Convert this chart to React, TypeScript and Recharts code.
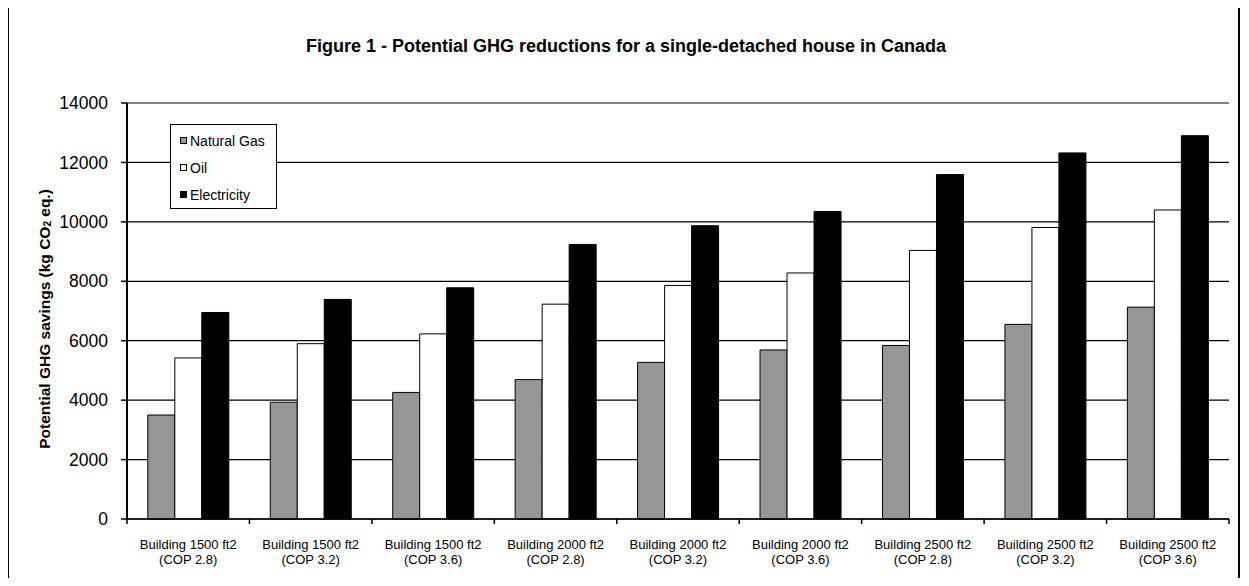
import { BarChart, Bar, XAxis, YAxis, CartesianGrid, Legend } from "recharts";

const categories = [
  "Building 1500 ft2|(COP 2.8)",
  "Building 1500 ft2|(COP 3.2)",
  "Building 1500 ft2|(COP 3.6)",
  "Building 2000 ft2|(COP 2.8)",
  "Building 2000 ft2|(COP 3.2)",
  "Building 2000 ft2|(COP 3.6)",
  "Building 2500 ft2|(COP 2.8)",
  "Building 2500 ft2|(COP 3.2)",
  "Building 2500 ft2|(COP 3.6)",
];
const naturalGas = [3500, 3930, 4260, 4690, 5270, 5690, 5840, 6550, 7130];
const oil = [5420, 5900, 6230, 7230, 7860, 8280, 9040, 9810, 10400];
const electricity = [6950, 7390, 7780, 9240, 9870, 10350, 11590, 12320, 12900];
const yTicks = [0, 2000, 4000, 6000, 8000, 10000, 12000, 14000];
const seriesNames = ["Natural Gas", "Oil", "Electricity"];

const FONT = "'Liberation Sans', Arial, Helvetica, sans-serif";

const data = categories.map((name, i) => ({
  name,
  gas: naturalGas[i],
  oil: oil[i],
  elec: electricity[i],
}));

function XTick(props: any) {
  const { x, y, payload, index, width, visibleTicksCount } = props;
  const count = visibleTicksCount || categories.length;
  const bw = (width || 1102) / count;
  const [l1, l2] = String(payload.value).split("|");
  const axisY = y - 5;
  return (
    <g>
      <line x1={x - bw / 2} x2={x - bw / 2} y1={axisY} y2={axisY + 5} stroke="#000" strokeWidth={1.5} />
      {index === count - 1 && (
        <line x1={x + bw / 2} x2={x + bw / 2} y1={axisY} y2={axisY + 5} stroke="#000" strokeWidth={1.5} />
      )}
      <text x={x} y={y} textAnchor="middle" fontSize={13} fontFamily={FONT} fill="#000">
        <tspan x={x} dy={25}>{l1}</tspan>
        <tspan x={x} dy={14.5}>{l2}</tspan>
      </text>
    </g>
  );
}

function YLabel(props: any) {
  const vb = props.viewBox || { x: 0, y: 103, width: 127, height: 416 };
  const cx = vb.x + 44;
  const cy = vb.y + vb.height / 2 + 8;
  return (
    <text
      x={cx}
      y={cy}
      transform={`rotate(-90, ${cx}, ${cy})`}
      textAnchor="middle"
      dominantBaseline="central"
      fontSize={15.5}
      fontWeight="bold"
      fontFamily={FONT}
      fill="#000"
    >
      Potential GHG savings (kg CO
      <tspan fontSize={10} dy={3}>2</tspan>
      <tspan dy={-3}> eq.)</tspan>
    </text>
  );
}

function LegendBox(props: any) {
  const payload = [...(props.payload || [])].sort(
    (a: any, b: any) => seriesNames.indexOf(a.value) - seriesNames.indexOf(b.value)
  );
  return (
    <div
      style={{
        border: "1px solid #000",
        background: "#fff",
        width: 105,
        height: 81,
        paddingTop: 2,
        boxSizing: "content-box",
        fontFamily: FONT,
        fontSize: 14,
        color: "#000",
      }}
    >
      {payload.map((p: any) => (
        <div key={p.value} style={{ display: "flex", alignItems: "center", height: 27, paddingLeft: 9 }}>
          <span
            style={{
              display: "inline-block",
              width: 5,
              height: 5,
              border: "1px solid #000",
              background: p.color,
              marginRight: 3,
            }}
          />
          <span>{p.value}</span>
        </div>
      ))}
    </div>
  );
}

export default function App() {
  return (
    <div style={{ position: "relative", width: 1249, height: 586, margin: -8, overflow: "hidden", background: "#fff" }}>
      <div
        style={{
          position: "absolute",
          left: 7,
          top: 4,
          width: 1229,
          height: 620,
          border: "2px solid #000",
        }}
      />
      <div
        style={{
          position: "absolute",
          left: 0,
          top: 36,
          width: 1252,
          textAlign: "center",
          fontFamily: FONT,
          fontWeight: "bold",
          fontSize: 18,
          color: "#000",
        }}
      >
        Figure 1 - Potential GHG reductions for a single-detached house in Canada
      </div>
      <div style={{ position: "absolute", left: 0, top: 0 }}>
        <BarChart
          width={1249}
          height={586}
          data={data}
          margin={{ top: 103, right: 20, bottom: 27, left: 0 }}
          barCategoryGap="17%"
          barGap={0}
        >
          <CartesianGrid vertical={false} stroke="#000" strokeWidth={1.2} />
          <XAxis
            dataKey="name"
            height={40}
            tickSize={5}
            tickMargin={0}
            tickLine={false}
            interval={0}
            axisLine={{ stroke: "#000", strokeWidth: 1.5 }}
            tick={<XTick />}
          />
          <XAxis
            xAxisId="top"
            orientation="top"
            dataKey="name"
            height={0}
            tick={false}
            tickLine={false}
            axisLine={{ stroke: "#808080", strokeWidth: 1.5 }}
          />
          <YAxis
            width={127}
            domain={[0, 14000]}
            ticks={yTicks}
            interval={0}
            tickSize={6}
            tickMargin={13}
            tick={{ fontSize: 17.5, fill: "#000", fontFamily: FONT }}
            tickLine={{ stroke: "#000", strokeWidth: 1.5 }}
            axisLine={{ stroke: "#000", strokeWidth: 2 }}
            label={<YLabel />}
          />
          <YAxis
            yAxisId="right"
            orientation="right"
            width={0}
            domain={[0, 14000]}
            tick={false}
            tickLine={false}
            axisLine={{ stroke: "#808080", strokeWidth: 1.5 }}
          />
          <Legend
            layout="horizontal"
            verticalAlign="middle"
            align="center"
            wrapperStyle={{ left: 170, top: 124, width: 107, height: 84 }}
            content={<LegendBox />}
          />
          <Bar dataKey="gas" name="Natural Gas" fill="#969696" stroke="#000" strokeWidth={1} isAnimationActive={false} />
          <Bar dataKey="oil" name="Oil" fill="#fff" stroke="#000" strokeWidth={1} isAnimationActive={false} />
          <Bar dataKey="elec" name="Electricity" fill="#000" stroke="#000" strokeWidth={1} isAnimationActive={false} />
        </BarChart>
      </div>
    </div>
  );
}
